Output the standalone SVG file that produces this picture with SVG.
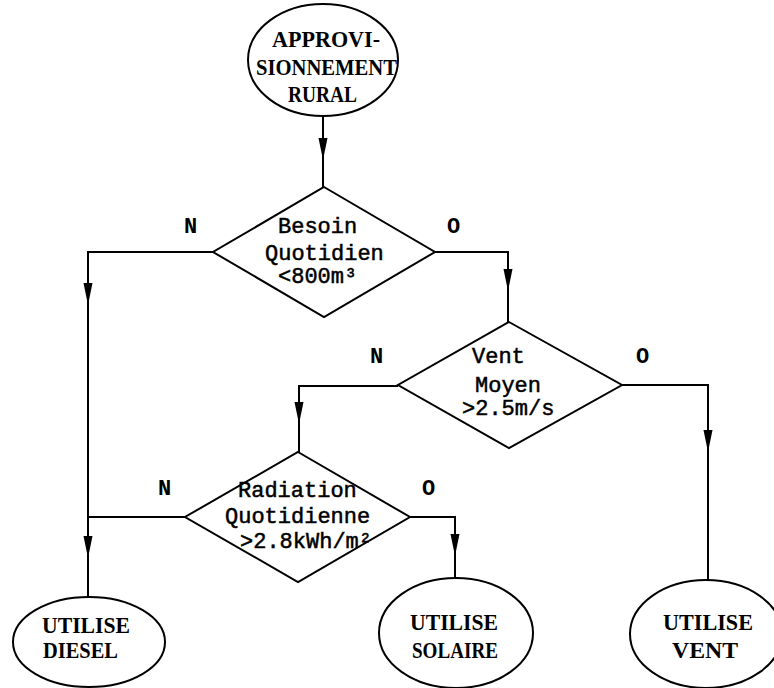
<svg xmlns="http://www.w3.org/2000/svg" width="774" height="688" viewBox="0 0 774 688">
<style>
.shape{fill:#fff;stroke:#000;stroke-width:2}
.ln{fill:none;stroke:#000;stroke-width:2}
.cap{font-family:"Liberation Serif","DejaVu Serif",serif;font-weight:bold;font-size:24px;fill:#000}
.txt{font-family:"Liberation Mono","DejaVu Sans Mono",monospace;font-size:22px;fill:#000;stroke:#000;stroke-width:0.5}
.lbl{font-family:"Liberation Mono","DejaVu Sans Mono",monospace;font-weight:bold;font-size:22px;fill:#000}
</style>
<defs>
<path id="ah" d="M-4.5,0 L4.5,0 L0,22 Z" fill="#000"/>
</defs>
<rect width="774" height="688" fill="#fff"/>
<g id="connectors">
<line class="ln" x1="323" y1="116" x2="323" y2="187"/>
<polyline class="ln" points="213,252 88,252 88,597"/>
<line class="ln" x1="185" y1="517" x2="88" y2="517"/>
<polyline class="ln" points="435,252 508,252 508,322"/>
<polyline class="ln" points="398,386 299,386 299,452"/>
<polyline class="ln" points="622,385 708,385 708,580"/>
<polyline class="ln" points="410,517 455,517 455,578"/>
<use href="#ah" x="323" y="138"/>
<use href="#ah" x="88" y="283"/>
<use href="#ah" x="88" y="536"/>
<use href="#ah" x="508" y="269"/>
<use href="#ah" x="299" y="402"/>
<use href="#ah" x="708" y="430"/>
<use href="#ah" x="455" y="534"/>
<text class="lbl" x="184" y="233">N</text>
<text class="lbl" x="447" y="233">O</text>
<text class="lbl" x="370" y="363">N</text>
<text class="lbl" x="636" y="363">O</text>
<text class="lbl" x="158" y="495">N</text>
<text class="lbl" x="422" y="495">O</text>
</g>
<g id="start">
<ellipse class="shape" cx="323" cy="60" rx="75" ry="56"/>
<text class="cap" x="272" y="47" textLength="108" lengthAdjust="spacingAndGlyphs">APPROVI-</text>
<text class="cap" x="256" y="75" textLength="141" lengthAdjust="spacingAndGlyphs">SIONNEMENT</text>
<text class="cap" x="288" y="102" textLength="69" lengthAdjust="spacingAndGlyphs">RURAL</text>
</g>
<g id="besoin">
<polygon class="shape" points="324,187 435,252 324,317 213,252"/>
<text class="txt" x="278" y="233">Besoin</text>
<text class="txt" x="265" y="260">Quotidien</text>
<text class="txt" x="278" y="283">&lt;800m³</text>
</g>
<g id="vent">
<polygon class="shape" points="509,322 622,385 509,448 398,385"/>
<text class="txt" x="472" y="363">Vent</text>
<text class="txt" x="475" y="392">Moyen</text>
<text class="txt" x="462" y="415">&gt;2.5m/s</text>
</g>
<g id="radiation">
<polygon class="shape" points="298,452 410,517 298,582 185,517"/>
<text class="txt" x="238" y="497">Radiation</text>
<text class="txt" x="225" y="523">Quotidienne</text>
<text class="txt" x="240" y="548">&gt;2.8kWh/m²</text>
</g>
<g id="diesel">
<ellipse class="shape" cx="89" cy="642" rx="76" ry="45"/>
<text class="cap" x="42" y="633" textLength="88" lengthAdjust="spacingAndGlyphs">UTILISE</text>
<text class="cap" x="43" y="658" textLength="75" lengthAdjust="spacingAndGlyphs">DIESEL</text>
</g>
<g id="solaire">
<ellipse class="shape" cx="456" cy="633" rx="77" ry="55"/>
<text class="cap" x="410" y="630" textLength="88" lengthAdjust="spacingAndGlyphs">UTILISE</text>
<text class="cap" x="412" y="658" textLength="86" lengthAdjust="spacingAndGlyphs">SOLAIRE</text>
</g>
<g id="vent-out">
<ellipse class="shape" cx="706" cy="634" rx="76" ry="54"/>
<text class="cap" x="663" y="630" textLength="90" lengthAdjust="spacingAndGlyphs">UTILISE</text>
<text class="cap" x="672" y="658" textLength="66" lengthAdjust="spacingAndGlyphs">VENT</text>
</g>
</svg>
